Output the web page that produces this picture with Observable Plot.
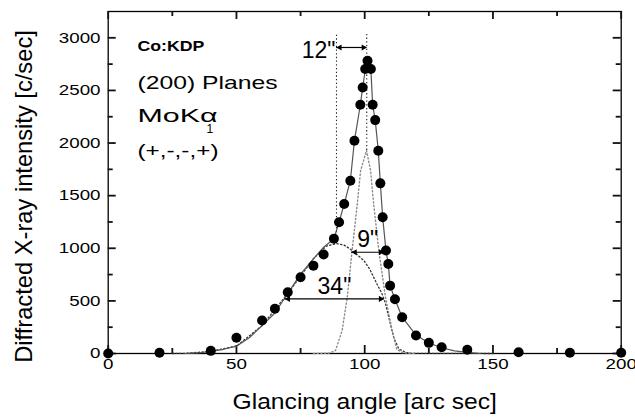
<!DOCTYPE html>
<html><head><meta charset="utf-8">
<script src="https://cdn.jsdelivr.net/npm/d3@7"></script>
<script src="https://cdn.jsdelivr.net/npm/@observablehq/plot@0.6"></script>
<style>
html,body{margin:0;padding:0;background:#fff;}
#chart svg{display:block;}
</style></head><body><div id="chart"></div>
<script>
// measured points
const dotX = [0,20,40,50,60,65,70,75,80,84,88,90,92,94.4,96,98.3,99.2,100.2,101.1,102.4,103.1,104.1,105.3,106.1,107,108.3,109.2,109.9,111.8,114.6,120,125,130,140,160,180,200];
const dotY = [0,7,25,150,313,425,582,725,835,940,1090,1247,1420,1642,2022,2364,2528,2703,2782,2703,2364,2218,1927,1617,1294,978,851,645,515,345,171,101,60,35,12,7,7];
// solid fit curve
const fitX = [30,35,40,45,50,55,60,65,70,75,80,84,88,90,92,94.4,96,98.3,99.2,100.8,102.4,103.1,104.1,105.3,106.1,107,108.3,109.2,109.9,111.8,114.6,120,125,130,135,140,145];
const fitY = [0,5,20,40,70,150,265,385,570,755,900,1010,1090,1247,1420,1642,2022,2364,2528,2790,2703,2364,2218,1927,1617,1294,978,851,645,515,345,175,100,55,25,10,0];
// broad component (dotted)
const broadX = [25,30,40,50,60,70,80,85,89,92,94.5,97,99.7,102,103.5,105,106.8,108.1,110,111.3,113.3,116,118,150];
const broadY = [0,2,20,70,265,570,900,1020,1045,1030,990,940,883,800,724,650,566,475,282,154,44,10,2,0];
// narrow component (dotted)
const narrowX = [80,86,88.6,91.2,93.2,95.1,97.1,98.4,100.7,102.3,103.5,105.5,108.1,110.7,112.5,115,120];
const narrowY = [0,3,28,218,535,978,1420,1737,1930,1737,1420,978,535,218,40,5,0];
// axis ticks
const xTicks = [0,50,100,150,200];
const xMinor = [25,75,125,175];
const yTicks = [0,500,1000,1500,2000,2500,3000];
const yMinor = [250,750,1250,1750,2250,2750];
const xTitle = "Glancing angle [arc sec]";
const yTitle = "Diffracted X-ray intensity [c/sec]";
// guides & arrows
const guideX = [89,100.8];
const guideTop = [3040,3040];
const guideBottom = [1044,1930];
const arrowLabel = ['12"','9"','34"'];
const arrowY = [2908,962,519];
const arrowX1 = [89,94.9,68.9];
const arrowX2 = [100.8,107.5,107.5];
// annotations
const noteText = ["(200) Planes","MoKα","(+,-,-,+)"];
const noteY = [2568,2260,1924];
const noteX = 11.4;
const titleText = "Co:KDP";
const titleY = 2924;
const subText = "1";
const subY = 2136;

const dots = dotX.map((x,i)=>({x,y:dotY[i]}));
const fit = fitX.map((x,i)=>({x,y:fitY[i]}));
const broad = broadX.map((x,i)=>({x,y:broadY[i]}));
const narrow = narrowX.map((x,i)=>({x,y:narrowY[i]}));
const guides = guideX.map((x,i)=>({x,y1:guideBottom[i],y2:guideTop[i]}));
const arrows = arrowLabel.map((t,i)=>({t,y:arrowY[i],x1:arrowX1[i],x2:arrowX2[i]}));
const notes = noteText.map((t,i)=>({t,y:noteY[i],x:noteX}));

const XD = [0,200], YD = [0,3250];
const FONT = "'Liberation Sans', Arial, sans-serif";
const W = 635, H = 417, ML = 107.7, MR = 14.3, MT = 11, MB = 64;
const kx = (XD[1]-XD[0]) / (W-ML-MR);   // data units per pixel, x
const ky = (YD[1]-YD[0]) / (H-MT-MB);   // data units per pixel, y
const TS = {stroke: "#111", strokeWidth: 1.8};
// inward tick marks (length in pixels, converted to data units)
const ticksX = (vals, px) => [
  Plot.ruleX(vals, {x: d => d, y1: YD[0], y2: YD[0] + px*ky, ...TS}),
  Plot.ruleX(vals, {x: d => d, y1: YD[1], y2: YD[1] - px*ky, ...TS})
];
const ticksY = (vals, px) => [
  Plot.ruleY(vals, {y: d => d, x1: XD[0], x2: XD[0] + px*kx, ...TS}),
  Plot.ruleY(vals, {y: d => d, x1: XD[1], x2: XD[1] - px*kx, ...TS})
];

const plot = Plot.plot({
  width: W, height: H,
  marginLeft: ML, marginRight: MR, marginTop: MT, marginBottom: MB,
  style: {fontFamily: FONT, fontSize: "15px", background: "white", color: "black"},
  x: {domain: XD},
  y: {domain: YD},
  marks: [
    Plot.frame({stroke: "black", strokeWidth: 1.3}),
    ...ticksX(xTicks, 8), ...ticksX(xMinor, 5),
    ...ticksY(yTicks, 8), ...ticksY(yMinor, 5),
    // tick labels
    Plot.axisX({anchor: "bottom", ticks: xTicks, tickSize: 0, tickPadding: 5, label: null, fontSize: 15, tickFormat: d => String(d)}),
    Plot.axisY({anchor: "left", ticks: yTicks, tickSize: 0, tickPadding: 7.7, label: null, fontSize: 15, tickFormat: d => String(d)}),
    // titles
    Plot.text([xTitle], {frameAnchor: "bottom", dy: 48, fontSize: 22, textAnchor: "middle", lineAnchor: "middle"}),
    Plot.text([yTitle], {frameAnchor: "left", dx: -84, dy: 14, rotate: -90, fontSize: 23.7, textAnchor: "middle", lineAnchor: "middle"}),
    // components
    Plot.line(broad, {x: "x", y: "y", stroke: "#333", strokeWidth: 1.3, strokeDasharray: "1.3,2.4"}),
    Plot.line(narrow, {x: "x", y: "y", stroke: "#8a8a8a", strokeWidth: 1.4, strokeDasharray: "1.3,2.4"}),
    Plot.ruleX(guides, {x: "x", y1: "y1", y2: "y2", stroke: "#222", strokeWidth: 1.1, strokeDasharray: "1.3,2.4"}),
    Plot.line(fit, {x: "x", y: "y", stroke: "#555", strokeWidth: 1.2}),
    Plot.dot(dots, {x: "x", y: "y", r: 5, fill: "black"}),
    // arrows
    Plot.ruleY(arrows, {y: "y", x1: "x1", x2: "x2", stroke: "black", strokeWidth: 1.2}),
    Plot.dot(arrows, {x: "x2", y: "y", symbol: "triangle", r: 2.3, rotate: 90, dx: -3.3, fill: "black", stroke: "none"}),
    Plot.dot(arrows, {x: "x1", y: "y", symbol: "triangle", r: 2.3, rotate: -90, dx: 3.3, fill: "black", stroke: "none"}),
    Plot.text(arrows.slice(0,1), {x: "x1", y: "y", text: "t", textAnchor: "end", dx: -1, dy: 3, fontSize: 23, lineAnchor: "middle"}),
    Plot.text(arrows.slice(1), {x: d => (d.x1 + d.x2)/2, y: "y", text: "t", fontSize: 23, lineAnchor: "bottom", dy: -5}),
    // annotations
    Plot.text([titleText], {x: noteX, y: titleY, textAnchor: "start", fontSize: 15, fontWeight: "bold"}),
    Plot.text(notes, {x: "x", y: "y", text: "t", textAnchor: "start", fontSize: 19}),
    Plot.text([subText], {x: noteX, y: subY, textAnchor: "start", dx: 69, fontSize: 12})
  ]
});
document.getElementById("chart").appendChild(plot);

// horizontal stretch of texts to match the reference's wide lettering
const stretchBy = new Map([
  [xTitle, 1.12], [titleText, 1.18],
  ["(200) Planes", 1.3], ["MoKα", 1.6], ["(+,-,-,+)", 1.28]
]);
xTicks.concat(yTicks).forEach(v => stretchBy.set(String(v), 1.25));
plot.querySelectorAll("text").forEach(t => {
  const k = stretchBy.get(t.textContent);
  if (!k || t.getAttribute("transform")?.includes("rotate")) return;
  const L = t.getComputedTextLength();
  if (L > 0) { t.setAttribute("textLength", L * k); t.setAttribute("lengthAdjust", "spacingAndGlyphs"); }
});
</script></body></html>
